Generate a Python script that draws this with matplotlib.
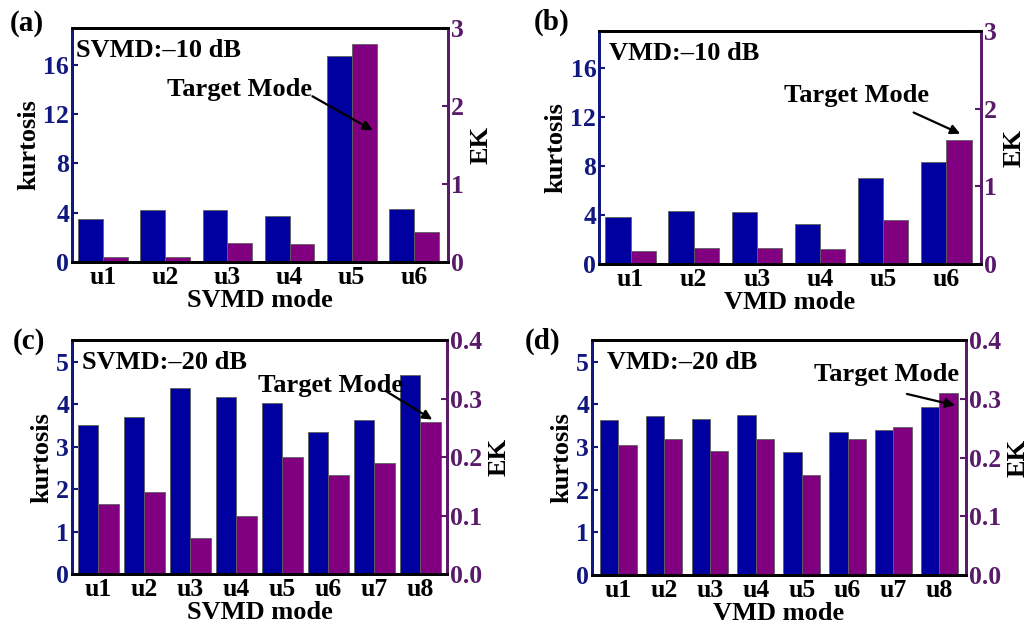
import matplotlib.pyplot as plt
import numpy as np

plt.rcParams['font.family'] = 'Liberation Serif'
plt.rcParams['font.weight'] = 'bold'

# data
modes6 = ['u1', 'u2', 'u3', 'u4', 'u5', 'u6']
modes8 = ['u1', 'u2', 'u3', 'u4', 'u5', 'u6', 'u7', 'u8']

kurt_a = [3.5, 4.2, 4.2, 3.7, 16.7, 4.3]
ek_a = [0.07, 0.07, 0.25, 0.23, 2.80, 0.38]

kurt_b = [3.84, 4.32, 4.24, 3.3, 7.0, 8.3]
ek_b = [0.17, 0.21, 0.21, 0.19, 0.56, 1.60]

kurt_c = [3.51, 3.70, 4.37, 4.17, 4.02, 3.34, 3.63, 4.69]
ek_c = [0.121, 0.141, 0.062, 0.100, 0.200, 0.170, 0.191, 0.260]

kurt_d = [3.64, 3.72, 3.66, 3.75, 2.88, 3.36, 3.40, 3.94]
ek_d = [0.222, 0.231, 0.211, 0.231, 0.170, 0.231, 0.252, 0.310]

blue = '#0000A0'
purple = '#800080'
navy = '#101880'
dpurple = '#5a1a6a'

fs_tick = 18.5
fs_lab = 19

fig = plt.figure(figsize=(10.33, 6.32), dpi=100)

panels = [
    # rect, modes, kurt, ek, kmax, kticks, ekmax, ekticks, xlabel, note, letter, width, xlim,
    # text pos, arrow tail, arrow head, letter pos, note x
    ([0.0697, 0.5854, 0.364, 0.3703], modes6, kurt_a, ek_a, 19, [0, 4, 8, 12, 16], 3, [0, 1, 2, 3],
     'SVMD mode', 'SVMD:\u201310 dB', '(a)', 0.4, (-0.5, 5.55),
     (0.252, 0.739), (0.633, 0.714), (0.806, 0.557), (0.009, 0.963), 0.011),
    ([0.5799, 0.5823, 0.3698, 0.3687], modes6, kurt_b, ek_b, 19, [0, 4, 8, 12, 16], 3, [0, 1, 2, 3],
     'VMD mode', 'VMD:\u201310 dB', '(b)', 0.4, (-0.5, 5.55),
     (0.485, 0.721), (0.817, 0.655), (0.952, 0.554), (0.517, 0.964), 0.025),
    ([0.0697, 0.0913, 0.363, 0.3703], modes8, kurt_c, ek_c, 5.5, [0, 1, 2, 3, 4, 5], 0.4,
     [0.0, 0.1, 0.2, 0.3, 0.4], 'SVMD mode', 'SVMD:\u201320 dB', '(c)', 0.45, (-0.57, 7.58),
     (0.497, 0.805), (0.830, 0.790), (0.967, 0.655), (0.012, 0.46), 0.026),
    ([0.5731, 0.0902, 0.362, 0.3714], modes8, kurt_d, ek_d, 5.5, [0, 1, 2, 3, 4, 5], 0.4,
     [0.0, 0.1, 0.2, 0.3, 0.4], 'VMD mode', 'VMD:\u201320 dB', '(d)', 0.4, (-0.57, 7.58),
     (0.593, 0.855), (0.835, 0.774), (0.978, 0.720), (0.508, 0.46), 0.039),
]

for (rect, modes, kurt, ek, kmax, kticks, ekmax, ekticks, xlab, note, letter,
     w, xlim, txt, tail, head, lpos, nx) in panels:
    ax = fig.add_axes(rect)
    x = np.arange(len(modes))
    ax.bar(x - w / 2, kurt, width=w, color=blue, edgecolor='#606060', linewidth=0.6)
    ax.set_ylim(0, kmax)
    ax.set_yticks(kticks)
    ax.set_xlim(*xlim)
    ax.set_xticks(x)
    ax.set_xticklabels(modes, fontsize=fs_tick, fontweight='bold')
    ax.set_xlabel(xlab, fontsize=fs_lab, fontweight='bold', labelpad=0)
    ax.set_ylabel('kurtosis', fontsize=fs_lab, fontweight='bold', labelpad=2)
    ax.tick_params(axis='y', colors=navy, labelsize=fs_tick, direction='in', length=4, width=1.5, pad=2)
    ax.tick_params(axis='x', length=0, labelsize=fs_tick, pad=3)
    for lab in ax.get_yticklabels():
        lab.set_fontweight('bold')

    ax2 = ax.twinx()
    ax2.bar(x + w / 2, ek, width=w, color=purple, edgecolor='#606060', linewidth=0.6)
    ax2.set_ylim(0, ekmax)
    ax2.set_yticks(ekticks)
    if ekmax < 1:
        ax2.set_yticklabels(['%.1f' % t for t in ekticks])
    ax2.set_ylabel('EK', fontsize=fs_lab, fontweight='bold', labelpad=4)
    ax2.tick_params(axis='y', colors=dpurple, labelsize=fs_tick, direction='in', length=4, width=1.5, pad=2)
    for lab in ax2.get_yticklabels():
        lab.set_fontweight('bold')

    for a in (ax, ax2):
        for s in a.spines.values():
            s.set_linewidth(2)
        a.spines['left'].set_color(navy)
        a.spines['right'].set_color(dpurple)
        a.spines['top'].set_color('black')
        a.spines['bottom'].set_color('black')

    ax2.text(nx, 0.905, note, transform=ax2.transAxes,
             fontsize=fs_lab, fontweight='bold', va='center', ha='left')
    ax2.annotate('Target Mode', xy=head, xycoords='axes fraction', xytext=txt,
                 textcoords='axes fraction', fontsize=fs_lab, fontweight='bold', va='center', ha='left')
    ax2.annotate('', xy=head, xycoords='axes fraction', xytext=tail, textcoords='axes fraction',
                 arrowprops=dict(arrowstyle='-|>', color='black', lw=1.6, mutation_scale=14))
    fig.text(lpos[0], lpos[1], letter, fontsize=21, fontweight='bold', va='center', ha='left')

fig.savefig('out.png', dpi=100)
